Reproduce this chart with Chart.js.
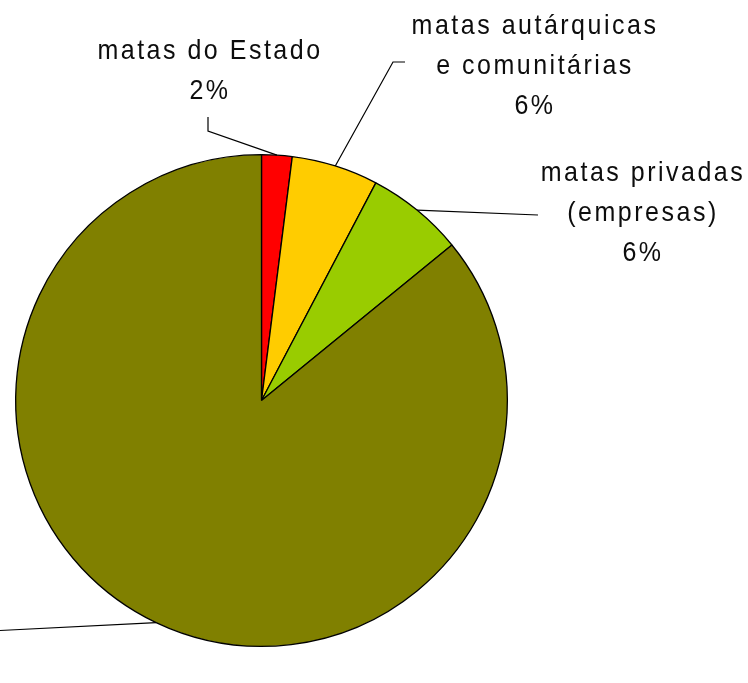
<!DOCTYPE html>
<html>
<head>
<meta charset="utf-8">
<script src="https://cdn.jsdelivr.net/npm/chart.js@4.4.1/dist/chart.umd.min.js"></script>
<style>
html,body{margin:0;padding:0;background:#fff;}
#c{display:block;}
</style>
</head>
<body>
<canvas id="c" width="748" height="683"></canvas>
<script>
// Data
const categories = [
  ["matas do Estado"],
  ["matas autárquicas", "e comunitárias"],
  ["matas privadas", "(empresas)"],
  ["matas privadas", "(particulares)"]
];
const shares = [2.0, 5.7, 6.4, 85.9];
const percentLabels = ["2%", "6%", "6%", "86%"];
const sliceColors = ["#FF0000", "#FFCC00", "#99CC00", "#808000"];

// Label placement (layout only)
const labelLayout = [
  { x: 210, y: 59, path: [[208, 131], [208, 117]] },
  { x: 535, y: 34, path: [[393, 62], [405, 62]] },
  { x: 643, y: 181, path: [[538, 215]] },
  { x: -200, y: 600, path: [[-10, 631]] }
];

const labelPlugin = {
  id: 'leaderLabels',
  afterDatasetsDraw(chart) {
    const ctx = chart.ctx;
    const meta = chart.getDatasetMeta(0);
    ctx.save();
    meta.data.forEach((arc, i) => {
      const p = arc.getProps(['x', 'y', 'startAngle', 'endAngle', 'outerRadius'], true);
      const mid = (p.startAngle + p.endAngle) / 2;
      const sx = p.x + Math.cos(mid) * p.outerRadius;
      const sy = p.y + Math.sin(mid) * p.outerRadius;
      const L = labelLayout[i];
      ctx.strokeStyle = '#000';
      ctx.lineWidth = 1.2;
      ctx.beginPath();
      ctx.moveTo(sx, sy);
      L.path.forEach(pt => ctx.lineTo(pt[0], pt[1]));
      ctx.stroke();
      ctx.fillStyle = '#0d0d0d';
      ctx.font = '25px "Liberation Sans", Arial, sans-serif';
      ctx.letterSpacing = '2.5px';
      ctx.textAlign = 'center';
      ctx.textBaseline = 'alphabetic';
      const lines = categories[i].concat([percentLabels[i]]);
      lines.forEach((t, k) => {
        ctx.save();
        ctx.translate(L.x, L.y + k * 40);
        ctx.scale(1, 1.12);
        ctx.fillText(t, 0, 0);
        ctx.restore();
      });
    });
    ctx.restore();
  }
};

new Chart(document.getElementById('c'), {
  type: 'pie',
  data: {
    labels: categories.map(c => c.join(' ')),
    datasets: [{
      data: shares,
      backgroundColor: sliceColors,
      borderColor: '#000',
      borderWidth: 1.3
    }]
  },
  options: {
    responsive: false,
    animation: false,
    layout: { padding: { left: 15, top: 154, right: 240, bottom: 36 } },
    plugins: {
      legend: { display: false },
      tooltip: { enabled: false }
    }
  },
  plugins: [labelPlugin]
});
</script>
</body>
</html>
